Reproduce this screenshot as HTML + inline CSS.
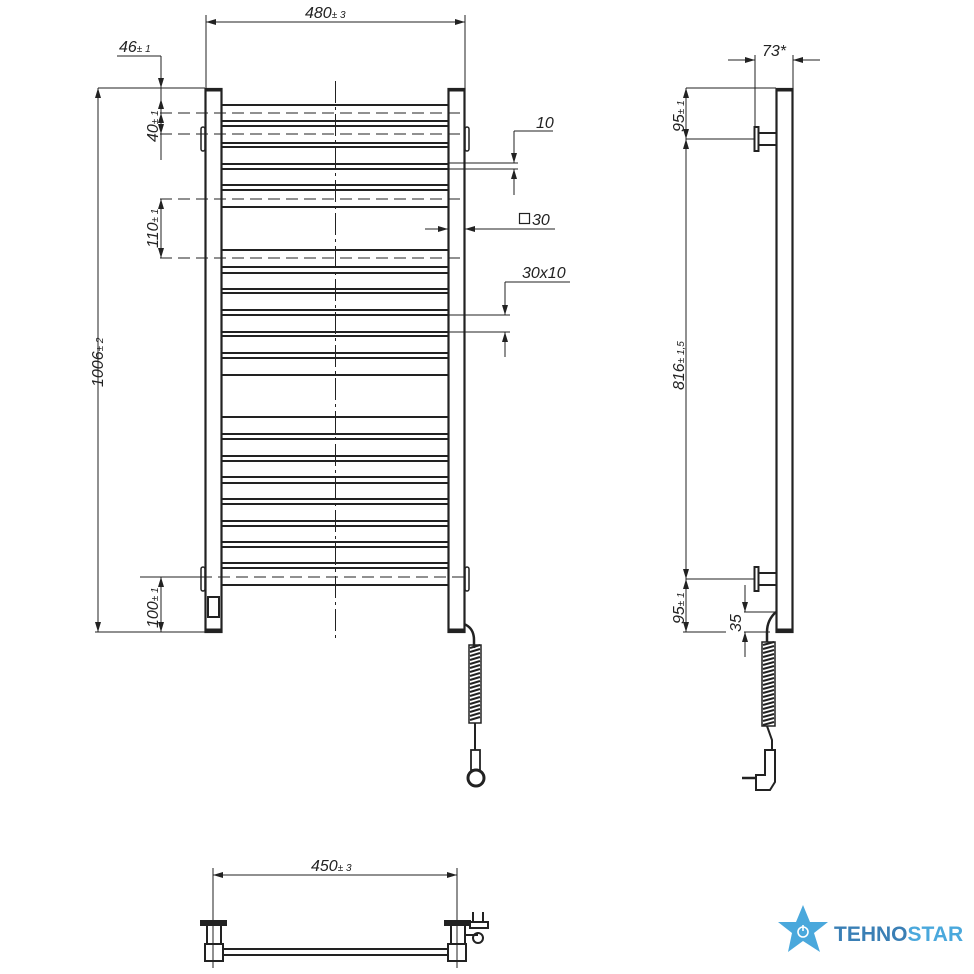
<!DOCTYPE html>
<html><head><meta charset="utf-8"><style>
html,body{margin:0;padding:0;background:#fff}
svg{display:block}
.t{font-family:"Liberation Sans",sans-serif;font-style:italic;font-size:16px;fill:#222}
.s{font-size:10px}
</style></head><body>
<svg width="974" height="974" viewBox="0 0 974 974" xmlns="http://www.w3.org/2000/svg">
<defs>
<marker id="a" viewBox="0 0 10 6" refX="10" refY="3" markerWidth="10" markerHeight="6" orient="auto-start-reverse" markerUnits="userSpaceOnUse"><path d="M0,0 L10,3 L0,6z" fill="#222"/></marker>
</defs>
<g stroke="#222" fill="none">
<!-- front view posts -->
<rect x="205.5" y="89" width="16" height="543" stroke-width="2.2"/>
<rect x="448.5" y="89" width="16" height="543" stroke-width="2.2"/>
<line x1="205" y1="90" x2="222" y2="90" stroke-width="3"/>
<line x1="448" y1="90" x2="465" y2="90" stroke-width="3"/>
<line x1="205" y1="630" x2="222" y2="630" stroke-width="3"/>
<line x1="448" y1="630" x2="465" y2="630" stroke-width="3"/>
<rect x="208" y="597" width="11" height="20" stroke-width="2"/>
<!-- lugs -->
<rect x="201" y="127" width="4" height="24" rx="2" stroke-width="1.5"/>
<rect x="465" y="127" width="4" height="24" rx="2" stroke-width="1.5"/>
<rect x="201" y="567" width="4" height="24" rx="2" stroke-width="1.5"/>
<rect x="465" y="567" width="4" height="24" rx="2" stroke-width="1.5"/>
<!-- rails -->
<g stroke-width="2">
<line x1="222" x2="448" y1="105" y2="105"/>
<line x1="222" x2="448" y1="121" y2="121"/><line x1="222" x2="448" y1="126" y2="126"/>
<line x1="222" x2="448" y1="143" y2="143"/><line x1="222" x2="448" y1="147" y2="147"/>
<line x1="222" x2="448" y1="164" y2="164"/><line x1="222" x2="448" y1="169" y2="169"/>
<line x1="222" x2="448" y1="185" y2="185"/><line x1="222" x2="448" y1="190" y2="190"/>
<line x1="222" x2="448" y1="207" y2="207"/>
<line x1="222" x2="448" y1="250" y2="250"/>
<line x1="222" x2="448" y1="267" y2="267"/><line x1="222" x2="448" y1="273" y2="273"/>
<line x1="222" x2="448" y1="289" y2="289"/><line x1="222" x2="448" y1="293" y2="293"/>
<line x1="222" x2="448" y1="310" y2="310"/><line x1="222" x2="448" y1="315" y2="315"/>
<line x1="222" x2="448" y1="332" y2="332"/><line x1="222" x2="448" y1="336" y2="336"/>
<line x1="222" x2="448" y1="353" y2="353"/><line x1="222" x2="448" y1="358" y2="358"/>
<line x1="222" x2="448" y1="375" y2="375"/>
<line x1="222" x2="448" y1="417" y2="417"/>
<line x1="222" x2="448" y1="434" y2="434"/><line x1="222" x2="448" y1="439" y2="439"/>
<line x1="222" x2="448" y1="456" y2="456"/><line x1="222" x2="448" y1="461" y2="461"/>
<line x1="222" x2="448" y1="477" y2="477"/><line x1="222" x2="448" y1="483" y2="483"/>
<line x1="222" x2="448" y1="499" y2="499"/><line x1="222" x2="448" y1="504" y2="504"/>
<line x1="222" x2="448" y1="521" y2="521"/><line x1="222" x2="448" y1="526" y2="526"/>
<line x1="222" x2="448" y1="542" y2="542"/><line x1="222" x2="448" y1="547" y2="547"/>
<line x1="222" x2="448" y1="563" y2="563"/><line x1="222" x2="448" y1="568" y2="568"/>
<line x1="222" x2="448" y1="585" y2="585"/>
</g>
<!-- dashed -->
<g stroke-width="1" stroke-dasharray="12,6">
<line x1="160" x2="460" y1="113" y2="113"/>
<line x1="160" x2="460" y1="134" y2="134"/>
<line x1="160" x2="460" y1="199" y2="199"/>
<line x1="160" x2="460" y1="258" y2="258"/>
<line x1="200" x2="465" y1="577" y2="577"/>
</g>
<line x1="335.5" y1="81" x2="335.5" y2="638" stroke-width="1" stroke-dasharray="22,4,3,4"/>
<!-- dimensions front -->
<g stroke-width="1">
<line x1="206" y1="15" x2="206" y2="88"/><line x1="465" y1="15" x2="465" y2="88"/>
<line x1="206" y1="22" x2="465" y2="22" marker-start="url(#a)" marker-end="url(#a)"/>
<line x1="117" y1="56" x2="161" y2="56"/>
<line x1="161" y1="56" x2="161" y2="88" marker-end="url(#a)"/>
<line x1="161" y1="88" x2="161" y2="160"/>
<line x1="161" y1="113" x2="161" y2="99" marker-end="url(#a)"/>
<line x1="161" y1="113" x2="161" y2="134" marker-start="url(#a)" marker-end="url(#a)"/>
<line x1="98" y1="88" x2="205" y2="88"/>
<line x1="98" y1="88" x2="98" y2="632" marker-start="url(#a)" marker-end="url(#a)"/>
<line x1="95" y1="632" x2="205" y2="632"/>
<line x1="161" y1="199" x2="161" y2="258" marker-start="url(#a)" marker-end="url(#a)"/>
<line x1="140" y1="577" x2="200" y2="577"/>
<line x1="161" y1="577" x2="161" y2="632" marker-start="url(#a)" marker-end="url(#a)"/>
<!-- 10 -->
<line x1="514" y1="131" x2="553" y2="131"/>
<line x1="514" y1="131" x2="514" y2="163" marker-end="url(#a)"/>
<line x1="514" y1="195" x2="514" y2="169" marker-end="url(#a)"/>
<line x1="448" y1="163" x2="518" y2="163"/><line x1="448" y1="169" x2="518" y2="169"/>
<!-- 30 -->
<line x1="425" y1="229" x2="448" y2="229" marker-end="url(#a)"/>
<line x1="555" y1="229" x2="465" y2="229" marker-end="url(#a)"/>
<!-- 30x10 -->
<line x1="505" y1="282" x2="570" y2="282"/>
<line x1="505" y1="282" x2="505" y2="315" marker-end="url(#a)"/>
<line x1="505" y1="357" x2="505" y2="332" marker-end="url(#a)"/>
<line x1="448" y1="315" x2="510" y2="315"/><line x1="448" y1="332" x2="510" y2="332"/>
</g>
<!-- front cable -->
<path d="M464,624 Q474,628 474,640 L474,648" stroke-width="2.5"/>
<g stroke-width="2">
<path d="M470,648 L480,645 M470,652 L480,649 M470,656 L480,653 M470,660 L480,657 M470,664 L480,661 M470,668 L480,665 M470,672 L480,669 M470,676 L480,673 M470,680 L480,677 M470,684 L480,681 M470,688 L480,685 M470,692 L480,689 M470,696 L480,693 M470,700 L480,697 M470,704 L480,701 M470,708 L480,705 M470,712 L480,709 M470,716 L480,713 M470,720 L480,717"/>
<rect x="469" y="645" width="12" height="78" stroke-width="1.5"/>
</g>
<path d="M475,723 L475,750" stroke-width="2"/>
<rect x="471" y="750" width="9" height="20" stroke-width="1.8"/>
<circle cx="476" cy="778" r="8" stroke-width="3"/>
<!-- side view -->
<rect x="776.5" y="89" width="16" height="543" stroke-width="2.2"/>
<line x1="776" y1="90" x2="793" y2="90" stroke-width="3"/>
<line x1="776" y1="630" x2="793" y2="630" stroke-width="3"/>
<rect x="754.5" y="127" width="4" height="24" stroke-width="2"/>
<rect x="758.5" y="133" width="18" height="12" stroke-width="2"/>
<rect x="754.5" y="567" width="4" height="24" stroke-width="2"/>
<rect x="758.5" y="573" width="18" height="12" stroke-width="2"/>
<g stroke-width="1">
<line x1="728" y1="60" x2="755" y2="60" marker-end="url(#a)"/>
<line x1="820" y1="60" x2="793" y2="60" marker-end="url(#a)"/>
<line x1="755" y1="55" x2="755" y2="127"/><line x1="793" y1="55" x2="793" y2="88"/>
<line x1="686" y1="88" x2="776" y2="88"/>
<line x1="686" y1="139" x2="754" y2="139"/>
<line x1="686" y1="88" x2="686" y2="139" marker-start="url(#a)" marker-end="url(#a)"/>
<line x1="686" y1="139" x2="686" y2="579" marker-start="url(#a)" marker-end="url(#a)"/>
<line x1="686" y1="579" x2="754" y2="579"/>
<line x1="686" y1="579" x2="686" y2="632" marker-start="url(#a)" marker-end="url(#a)"/>
<line x1="683" y1="632" x2="726" y2="632"/>
<line x1="744" y1="612" x2="776" y2="612"/><line x1="744" y1="632" x2="770" y2="632"/>
<line x1="745" y1="585" x2="745" y2="612" marker-end="url(#a)"/>
<line x1="745" y1="657" x2="745" y2="632" marker-end="url(#a)"/>
</g>
<path d="M776,612 Q767,620 767,632 L767,642" stroke-width="2.5"/>
<g stroke-width="2">
<path d="M763,645 L774,642 M763,649 L774,646 M763,653 L774,650 M763,657 L774,654 M763,661 L774,658 M763,665 L774,662 M763,669 L774,666 M763,673 L774,670 M763,677 L774,674 M763,681 L774,678 M763,685 L774,682 M763,689 L774,686 M763,693 L774,690 M763,697 L774,694 M763,701 L774,698 M763,705 L774,702 M763,709 L774,706 M763,713 L774,710 M763,717 L774,714 M763,721 L774,718 M763,725 L774,722"/>
<rect x="762" y="642" width="13" height="84" stroke-width="1.5"/>
</g>
<path d="M767,726 L772,740 L772,750" stroke-width="2"/>
<path d="M765,750 L775,750 L775,782 L770,790 L756,790 L756,775 L765,775z" stroke-width="2"/>
<line x1="742" y1="778" x2="756" y2="778" stroke-width="2.5"/>
<!-- top view -->
<g stroke-width="1">
<line x1="213" y1="868" x2="213" y2="968"/><line x1="457" y1="868" x2="457" y2="968"/>
<line x1="213" y1="875" x2="457" y2="875" marker-start="url(#a)" marker-end="url(#a)"/>
</g>
<rect x="201" y="921" width="25" height="4" stroke-width="2" fill="#222"/>
<rect x="207" y="925" width="14" height="19" stroke-width="2"/>
<rect x="205" y="944" width="18" height="17" stroke-width="2"/>
<rect x="445" y="921" width="25" height="4" stroke-width="2" fill="#222"/>
<rect x="451" y="925" width="14" height="19" stroke-width="2"/>
<rect x="448" y="944" width="18" height="17" stroke-width="2"/>
<line x1="223" y1="949" x2="448" y2="949" stroke-width="2"/>
<line x1="223" y1="955" x2="448" y2="955" stroke-width="2"/>
<path d="M470,922 L488,922 L488,928 L470,928z M473,912 L473,922 M483,912 L483,922 M465,935 L478,935" stroke-width="2"/>
<circle cx="478" cy="938" r="5" stroke-width="2"/>
</g>
<!-- texts -->
<text class="t" x="305" y="18">480<tspan class="s">± 3</tspan></text>
<text class="t" x="119" y="52">46<tspan class="s">± 1</tspan></text>
<text class="t" transform="translate(158,142) rotate(-90)">40<tspan class="s">± 1</tspan></text>
<text class="t" transform="translate(158,248) rotate(-90)">110<tspan class="s">± 1</tspan></text>
<text class="t" transform="translate(103,387) rotate(-90)">1006<tspan class="s">± 2</tspan></text>
<text class="t" transform="translate(158,628) rotate(-90)">100<tspan class="s">± 1</tspan></text>
<text class="t" x="536" y="128">10</text>
<rect x="519.5" y="213.5" width="10" height="10" fill="none" stroke="#222" stroke-width="1.2"/>
<text class="t" x="532" y="225">30</text>
<text class="t" x="522" y="278">30x10</text>
<text class="t" x="762" y="56">73*</text>
<text class="t" transform="translate(684,132) rotate(-90)">95<tspan class="s">± 1</tspan></text>
<text class="t" transform="translate(684,390) rotate(-90)">816<tspan class="s">± 1,5</tspan></text>
<text class="t" transform="translate(684,624) rotate(-90)">95<tspan class="s">± 1</tspan></text>
<text class="t" transform="translate(741,632) rotate(-90)">35</text>
<text class="t" x="311" y="871">450<tspan class="s">± 3</tspan></text>
<!-- logo -->
<polygon points="803,905 810,922 828,922 814,933 820,952 803,941 788,952 792,933 778,922 796,922" fill="#4aa8dc"/>
<circle cx="803" cy="932" r="5" fill="none" stroke="#fff" stroke-width="1.6"/>
<line x1="803" y1="925" x2="803" y2="931" stroke="#fff" stroke-width="1.6"/>
<text x="834" y="941" font-family="Liberation Sans,sans-serif" font-weight="bold" font-size="21" fill="#3a7fb5">TEHNO<tspan fill="#4aa8dc">STAR</tspan></text>
</svg>
</body></html>
